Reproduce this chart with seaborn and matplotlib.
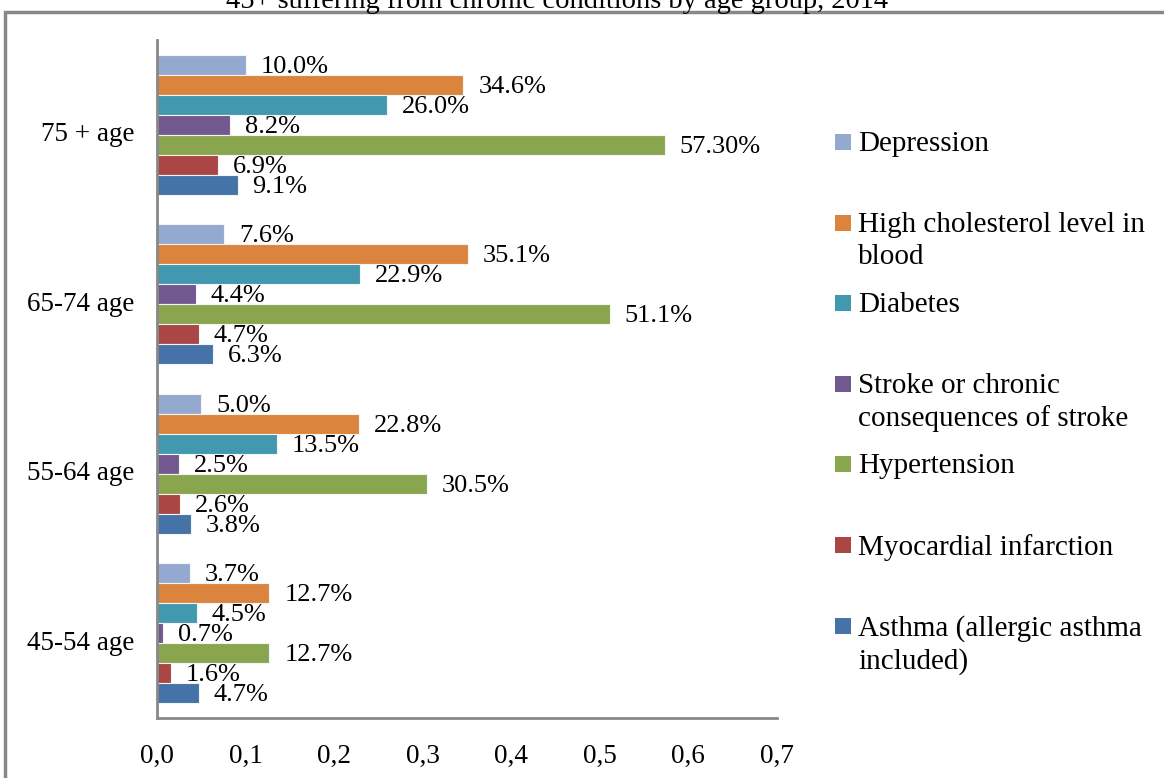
import numpy as np
import pandas as pd
import matplotlib as mpl
mpl.use('Agg')
import matplotlib.pyplot as plt
import matplotlib.transforms as mtrans
from matplotlib.patches import Rectangle
from matplotlib.ticker import FuncFormatter
import seaborn as sns

# data (shares, 0..1)
age_groups = ['75 + age', '65-74 age', '55-64 age', '45-54 age']
conditions = ['Depression', 'High cholesterol level in\nblood', 'Diabetes',
              'Stroke or chronic\nconsequences of stroke', 'Hypertension',
              'Myocardial infarction', 'Asthma (allergic asthma\nincluded)']
depression = [0.100, 0.076, 0.050, 0.037]
cholesterol = [0.346, 0.351, 0.228, 0.127]
diabetes = [0.260, 0.229, 0.135, 0.045]
stroke = [0.082, 0.044, 0.025, 0.007]
hypertension = [0.573, 0.511, 0.305, 0.127]
infarction = [0.069, 0.047, 0.026, 0.016]
asthma = [0.091, 0.063, 0.038, 0.047]
label_override = {(4, 0): '57.30%'}  # shown with two decimals in the source

colors = ['#93A9CF', '#DB843D', '#4198AF', '#71588F', '#89A54E', '#AA4643', '#4572A7']

series = [depression, cholesterol, diabetes, stroke, hypertension, infarction, asthma]
rows = []
for cond, vals in zip(conditions, series):
    for grp, v in zip(age_groups, vals):
        rows.append({'age': grp, 'condition': cond, 'value': v})
df = pd.DataFrame(rows)

sns.set_style('white')
plt.rcParams['font.family'] = ['Liberation Serif', 'DejaVu Serif']
plt.rcParams['text.color'] = 'black'
plt.rcParams['xtick.color'] = 'black'
plt.rcParams['ytick.color'] = 'black'

fig = plt.figure(figsize=(11.64, 7.78), dpi=100)
ax = fig.add_axes([157 / 1164, 1 - 718 / 778, 620 / 1164, 678 / 778])

sns.barplot(data=df, y='age', x='value', hue='condition', orient='h',
            order=age_groups, hue_order=conditions, palette=colors,
            saturation=1, width=0.826, dodge=True, edgecolor='#f4f4f4',
            linewidth=0.8, legend=False, ax=ax)

# data labels right of each bar
for i, cont in enumerate(ax.containers):
    for j, bar in enumerate(cont):
        w = bar.get_width()
        yc = bar.get_y() + bar.get_height() / 2
        txt = label_override.get((i, j), f'{w * 100:.1f}%')
        ax.annotate(txt, (w, yc), xytext=(15, -2), textcoords='offset pixels',
                    ha='left', va='center', fontsize=19, color='black')

ax.set_xlim(0, 0.7)
ax.set_xticks(np.arange(0, 0.71, 0.1))
ax.xaxis.set_major_formatter(FuncFormatter(lambda v, p: f'{v:.1f}'.replace('.', ',')))
ax.set_xlabel('')
ax.set_ylabel('')
ax.tick_params(axis='x', length=0, pad=19, labelsize=19.5)
ax.tick_params(axis='y', length=0, pad=16, labelsize=19.5)
shift = mtrans.ScaledTranslation(0, -5 / 72, fig.dpi_scale_trans)
for lab in ax.get_yticklabels():
    lab.set_transform(lab.get_transform() + shift)
for s in ['top', 'right']:
    ax.spines[s].set_visible(False)
for s in ['left', 'bottom']:
    ax.spines[s].set_color('#888888')
    ax.spines[s].set_linewidth(2)

# manual legend, entries spaced evenly by their first line
for k, (cond, col) in enumerate(zip(conditions, colors)):
    ypx = 142 + 80.6 * k
    fig.patches.append(Rectangle((835 / 1164, 1 - (ypx + 8) / 778), 16 / 1164, 16 / 778,
                                 transform=fig.transFigure, facecolor=col,
                                 edgecolor='none'))
    fig.text(858 / 1164, 1 - (ypx - 11) / 778, cond, ha='left', va='top',
             fontsize=21, linespacing=1.3)

# outer chart frame and (cut off) title
fig.patches.append(Rectangle((5 / 1164, -0.05), 1.1, 1 - 12 / 778 + 0.05,
                             transform=fig.transFigure, facecolor='none',
                             edgecolor='#888888', linewidth=2.5))
fig.text(557 / 1164, 1 - 2 / 778, '45+ suffering from chronic conditions by age group, 2014',
         ha='center', va='center', fontsize=20.5)

fig.savefig('out.png', dpi=100)
